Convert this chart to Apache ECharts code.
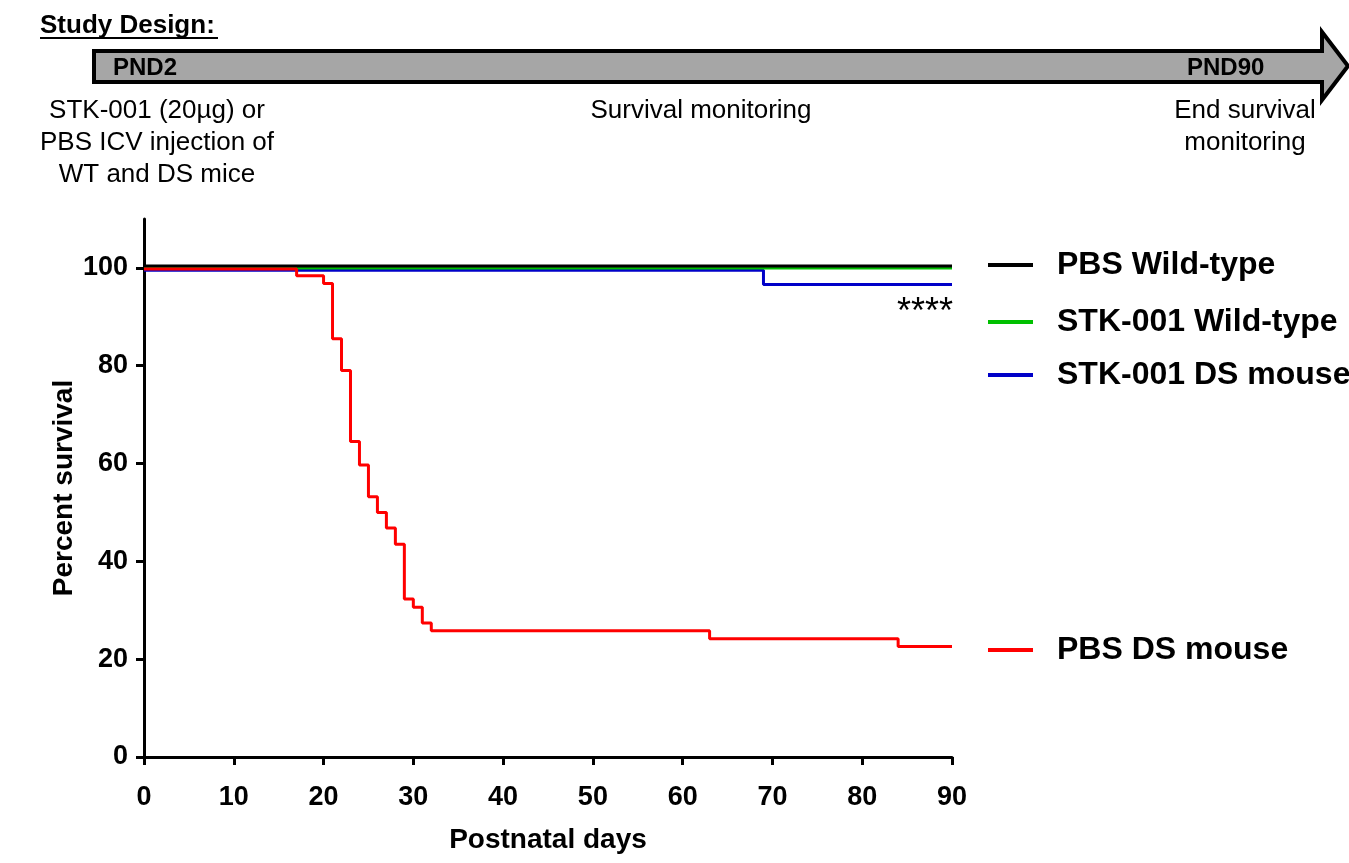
<!DOCTYPE html>
<html>
<head>
<meta charset="utf-8">
<script src="https://cdn.jsdelivr.net/npm/echarts@6/dist/echarts.min.js"></script>
<style>
  html, body { margin: 0; padding: 0; background: #fff; }
  #chart { width: 1349px; height: 863px; }
</style>
</head>
<body>
<div id="chart"></div>
<script>
// survival data (day, percent surviving after that day)
var pbsWtDays = [0, 90];
var pbsWtPct = [100.4, 100.4];
var stkWtDays = [0, 90];
var stkWtPct = [100, 100];
var stkDsDays = [0, 69, 90];
var stkDsPct = [99.5, 96.6, 96.6];
var pbsDsDays = [0, 17, 20, 21, 22, 23, 24, 25, 26, 27, 28, 29, 30, 31, 32, 63, 84, 90];
var pbsDsPct = [99.8, 98.4, 96.8, 85.5, 79.0, 64.5, 59.7, 53.2, 50.0, 46.8, 43.5, 32.3, 30.6, 27.4, 25.8, 24.2, 22.6, 22.6];

var xTicks = [0, 10, 20, 30, 40, 50, 60, 70, 80, 90];
var yTicks = [0, 20, 40, 60, 80, 100];

var seriesNames = ['PBS Wild-type', 'STK-001 Wild-type', 'STK-001 DS mouse', 'PBS DS mouse'];
var seriesColors = ['#000000', '#00c000', '#0000c8', '#ff0000'];

var sans = "Liberation Sans, Arial, sans-serif";

var pairs = function (xs, ys) {
    var out = [];
    for (var i = 0; i < xs.length; i++) out.push([xs[i], ys[i]]);
    return out;
};

var allData = [
    pairs(pbsWtDays, pbsWtPct),
    pairs(stkWtDays, stkWtPct),
    pairs(stkDsDays, stkDsPct),
    pairs(pbsDsDays, pbsDsPct)
];

// draw order: blue, green, black, red
var drawOrder = [2, 1, 0, 3];
var series = [];
for (var k = 0; k < drawOrder.length; k++) {
    var idx = drawOrder[k];
    series.push({
        name: seriesNames[idx],
        type: 'line',
        step: 'end',
        data: allData[idx],
        symbol: 'none',
        lineStyle: { color: seriesColors[idx], width: 3 },
        itemStyle: { color: seriesColors[idx] },
        z: 3 + k,
        animation: false
    });
}

// one legend per group, placed beside its curve
var legendY = [264, 321, 374, 649];
var legends = [];
for (var j = 0; j < seriesNames.length; j++) {
    legends.push({
        data: [seriesNames[j]],
        left: 988,
        top: legendY[j] - 18,
        padding: 0,
        icon: 'rect',
        itemWidth: 45,
        itemHeight: 4,
        selectedMode: false,
        textStyle: {
            fontFamily: sans, fontWeight: 'bold', fontSize: 32, color: '#000',
            lineHeight: 38, padding: [0, 0, 0, 19]
        }
    });
}

var chart = echarts.init(document.getElementById('chart'));
var option = {
    backgroundColor: '#fff',
    animation: false,
    grid: { left: 144, right: 397, top: 219, bottom: 106 },
    legend: legends,
    xAxis: {
        type: 'value',
        min: 0, max: 90, interval: 10,
        name: 'Postnatal days',
        nameLocation: 'middle',
        nameGap: 69,
        nameMoveOverlap: false,
        nameTextStyle: { fontFamily: sans, fontWeight: 'bold', fontSize: 28, color: '#000' },
        axisLine: { lineStyle: { color: '#000', width: 3 } },
        axisTick: { length: 8, lineStyle: { color: '#000', width: 3 } },
        axisLabel: {
            fontFamily: sans, fontWeight: 'bold', fontSize: 27, color: '#000', margin: 27,
            customValues: xTicks
        },
        splitLine: { show: false }
    },
    yAxis: {
        type: 'value',
        min: 0, max: 110,
        name: 'Percent survival',
        nameLocation: 'middle',
        nameGap: 66,
        nameRotate: 90,
        nameMoveOverlap: false,
        nameTextStyle: { fontFamily: sans, fontWeight: 'bold', fontSize: 28, color: '#000' },
        axisLine: { show: true, lineStyle: { color: '#000', width: 3 } },
        axisTick: { show: true, length: 8, lineStyle: { color: '#000', width: 3 }, customValues: yTicks },
        axisLabel: {
            fontFamily: sans, fontWeight: 'bold', fontSize: 27, color: '#000', margin: 16,
            customValues: yTicks
        },
        splitLine: { show: false }
    },
    graphic: [
        // study design banner
        {
            type: 'text', x: 40, y: 26,
            style: { text: 'Study Design:', fontFamily: sans, fontWeight: 'bold', fontSize: 26, fill: '#000', verticalAlign: 'middle' }
        },
        {
            type: 'line',
            shape: { x1: 40, y1: 38, x2: 218, y2: 38 },
            style: { stroke: '#000', lineWidth: 2 }
        },
        {
            type: 'polygon',
            shape: { points: [[94, 51], [1322, 51], [1322, 32], [1348, 66], [1322, 100], [1322, 82], [94, 82]] },
            style: { fill: '#a6a6a6', stroke: '#000', lineWidth: 4 }
        },
        {
            type: 'text', x: 113, y: 68,
            style: { text: 'PND2', fontFamily: sans, fontWeight: 'bold', fontSize: 24, fill: '#000', verticalAlign: 'middle' }
        },
        {
            type: 'text', x: 1187, y: 68,
            style: { text: 'PND90', fontFamily: sans, fontWeight: 'bold', fontSize: 24, fill: '#000', verticalAlign: 'middle' }
        },
        {
            type: 'text', x: 157, y: 95,
            style: {
                text: 'STK-001 (20µg) or\nPBS ICV injection of\nWT and DS mice',
                fontFamily: sans, fontSize: 26, lineHeight: 32, fill: '#000', align: 'center'
            }
        },
        {
            type: 'text', x: 701, y: 95,
            style: { text: 'Survival monitoring', fontFamily: sans, fontSize: 26, lineHeight: 32, fill: '#000', align: 'center' }
        },
        {
            type: 'text', x: 1245, y: 95,
            style: {
                text: 'End survival\nmonitoring',
                fontFamily: sans, fontSize: 26, lineHeight: 32, fill: '#000', align: 'center'
            }
        },
        {
            type: 'text', x: 925, y: 313,
            style: { text: '****', fontFamily: sans, fontSize: 36, fill: '#000', align: 'center', verticalAlign: 'middle' }
        }
    ],
    series: series
};
chart.setOption(option);
</script>
</body>
</html>
